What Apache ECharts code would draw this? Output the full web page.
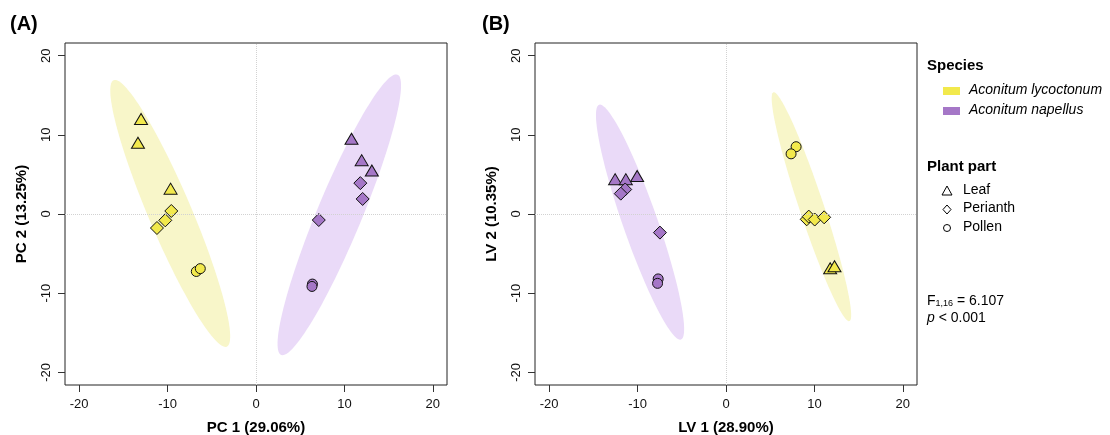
<!DOCTYPE html>
<html>
<head>
<meta charset="utf-8">
<script src="https://cdn.jsdelivr.net/npm/echarts@6/dist/echarts.min.js"></script>
<style>
  html, body { margin: 0; padding: 0; background: #fff; }
  #chart { width: 1110px; height: 435px; }
</style>
</head>
<body>
<div id="chart"></div>
<script>
// Axis ticks shared by both panels
const tickValues = [-20, -10, 0, 10, 20];

// Panel A: PCA scores
const pcaLycLeaf = [[-13.0, 12.0], [-13.35, 9.0], [-9.66, 3.2]];
const pcaLycPerianth = [[-9.58, 0.38], [-10.26, -0.8], [-11.2, -1.77]];
const pcaLycPollen = [[-6.75, -7.26], [-6.3, -6.9]];
const pcaNapLeaf = [[10.8, 9.5], [11.95, 6.8], [13.1, 5.5]];
const pcaNapPerianth = [[11.8, 3.9], [12.06, 1.9], [7.1, -0.76]];
const pcaNapPollen = [[6.38, -8.85], [6.33, -9.15]];

// Panel B: PLS-DA scores
const plsLycLeaf = [[11.78, -6.86], [12.27, -6.6]];
const plsLycPerianth = [[9.13, -0.67], [9.36, -0.33], [10.03, -0.7], [11.1, -0.42]];
const plsLycPollen = [[7.93, 8.5], [7.36, 7.6]];
const plsNapLeaf = [[-12.54, 4.4], [-11.33, 4.4], [-10.05, 4.8]];
const plsNapPerianth = [[-11.4, 3.1], [-11.9, 2.57], [-7.47, -2.35]];
const plsNapPollen = [[-7.67, -8.2], [-7.74, -8.76]];

// Ellipses (order: lycoctonum, napellus): centre, major and minor half-axes in data units
const pcaEllCenter = [[-9.7, 0.07], [9.42, -0.1]];
const pcaEllMajor = [[-6.4, 16.83], [6.58, 17.7]];
const pcaEllMinor = [[2.24, 1.07], [2.34, -1.09]];
const plsEllCenter = [[9.66, 0.92], [-9.72, -1.03]];
const plsEllMajor = [[-4.3, 14.45], [-4.63, 14.83]];
const plsEllMinor = [[1.31, 0.49], [1.85, 0.72]];

const speciesNames = ['Aconitum lycoctonum', 'Aconitum napellus'];
const partNames = ['Leaf', 'Perianth', 'Pollen'];
const axisNamesA = ['PC 1 (29.06%)', 'PC 2 (13.25%)'];
const axisNamesB = ['LV 1 (28.90%)', 'LV 2 (10.35%)'];

const YELLOW = '#f2e94c';
const PURPLE = '#a577c7';
const ELL_FILL = ['#f8f6c9', '#eadaf8'];
const FONT = 'Liberation Sans, Arial, sans-serif';

const chart = echarts.init(document.getElementById('chart'));

const makeX = (gridIndex, name) => ({
    gridIndex: gridIndex,
    type: 'value',
    min: -21.6,
    max: 21.6,
    name: name,
    nameLocation: 'middle',
    nameGap: 35,
    nameTextStyle: { fontFamily: FONT, fontSize: 15, fontWeight: 'bold', color: '#000' },
    axisLine: { show: false, onZero: false },
    axisTick: { show: true, inside: false, length: 7, customValues: tickValues, lineStyle: { color: '#333' } },
    axisLabel: { customValues: tickValues, margin: 13, fontFamily: FONT, fontSize: 13, color: '#111' },
    splitLine: { show: false }
});

const makeY = (gridIndex, name) => ({
    gridIndex: gridIndex,
    type: 'value',
    min: -21.6,
    max: 21.6,
    name: name,
    nameLocation: 'middle',
    nameGap: 36,
    nameTextStyle: { fontFamily: FONT, fontSize: 15, fontWeight: 'bold', color: '#000' },
    axisLine: { show: false, onZero: false },
    axisTick: { show: true, inside: false, length: 7, customValues: tickValues, lineStyle: { color: '#333' } },
    axisLabel: { customValues: tickValues, rotate: 90, margin: 12, fontFamily: FONT, fontSize: 13, color: '#111' },
    splitLine: { show: false }
});

const zeroLines = {
    silent: true,
    symbol: 'none',
    label: { show: false },
    lineStyle: { type: 'dotted', color: '#d2d2d2', width: 1 },
    data: [{ xAxis: 0 }, { yAxis: 0 }]
};

const ellipseSeries = (gridIndex, centers, majors, minors) => ({
    type: 'custom',
    xAxisIndex: gridIndex,
    yAxisIndex: gridIndex,
    z: 1,
    silent: true,
    data: centers,
    renderItem: (params, api) => {
        const c = centers[params.dataIndex];
        const a = majors[params.dataIndex];
        const b = minors[params.dataIndex];
        const points = [];
        for (let i = 0; i < 120; i++) {
            const t = i / 120 * Math.PI * 2;
            points.push(api.coord([
                c[0] + Math.cos(t) * a[0] + Math.sin(t) * b[0],
                c[1] + Math.cos(t) * a[1] + Math.sin(t) * b[1]
            ]));
        }
        return { type: 'polygon', shape: { points: points }, style: { fill: ELL_FILL[params.dataIndex] } };
    }
});

const SYMBOLS = {
    Leaf: { symbol: 'triangle', size: [13, 11] },
    Perianth: { symbol: 'diamond', size: [13, 13] },
    Pollen: { symbol: 'circle', size: 10 }
};

const scatter = (gridIndex, part, color, data, withLines) => {
    const s = {
        type: 'scatter',
        name: part,
        xAxisIndex: gridIndex,
        yAxisIndex: gridIndex,
        z: 3,
        symbol: SYMBOLS[part].symbol,
        symbolSize: SYMBOLS[part].size,
        itemStyle: { color: color, borderColor: '#111', borderWidth: 1, opacity: 1 },
        data: data
    };
    if (withLines) s.markLine = zeroLines;
    return s;
};

// legend helpers (drawn as graphics: two titled groups)
const legendText = (x, y, text, style) => ({
    type: 'text', left: x, top: y,
    style: Object.assign({ text: text, fontFamily: FONT, fontSize: 14, fill: '#000' }, style)
});

const graphics = [
    legendText(10, 14, '(A)', { fontSize: 20, fontWeight: 'bold' }),
    legendText(482, 14, '(B)', { fontSize: 20, fontWeight: 'bold' }),
    legendText(927, 58, 'Species', { fontSize: 15, fontWeight: 'bold' }),
    { type: 'rect', left: 943, top: 87, shape: { width: 17, height: 8 }, style: { fill: YELLOW } },
    { type: 'rect', left: 943, top: 107, shape: { width: 17, height: 8 }, style: { fill: PURPLE } },
    legendText(969, 83, speciesNames[0], { fontStyle: 'italic' }),
    legendText(969, 103, speciesNames[1], { fontStyle: 'italic' }),
    legendText(927, 159, 'Plant part', { fontSize: 15, fontWeight: 'bold' }),
    { type: 'polygon', shape: { points: [[947, 186], [952, 195], [942, 195]] }, style: { fill: 'none', stroke: '#000', lineWidth: 1 } },
    { type: 'polygon', shape: { points: [[947, 205], [951, 209.5], [947, 214], [943, 209.5]] }, style: { fill: 'none', stroke: '#000', lineWidth: 1 } },
    { type: 'circle', shape: { cx: 947, cy: 228, r: 3.5 }, style: { fill: 'none', stroke: '#000', lineWidth: 1 } },
    legendText(963, 183, partNames[0]),
    legendText(963, 201, partNames[1]),
    legendText(963, 220, partNames[2]),
    {
        type: 'text', left: 927, top: 294,
        style: {
            text: '{b|F}{s|1,16}{b| = 6.107}',
            rich: {
                b: { fontFamily: FONT, fontSize: 14, fill: '#000' },
                s: { fontFamily: FONT, fontSize: 9, fill: '#000', verticalAlign: 'bottom', padding: [4, 0, 0, 0] }
            }
        }
    },
    {
        type: 'text', left: 927, top: 311,
        style: {
            text: '{i|p}{b| < 0.001}',
            rich: {
                i: { fontFamily: FONT, fontSize: 14, fontStyle: 'italic', fill: '#000' },
                b: { fontFamily: FONT, fontSize: 14, fill: '#000' }
            }
        }
    }
];

chart.setOption({
    animation: false,
    backgroundColor: '#fff',
    grid: [
        { left: 65, top: 43, width: 382, height: 342, outerBoundsMode: 'none', containLabel: false, show: true, borderColor: '#222', borderWidth: 1, backgroundColor: 'transparent' },
        { left: 535, top: 43, width: 382, height: 342, outerBoundsMode: 'none', containLabel: false, show: true, borderColor: '#222', borderWidth: 1, backgroundColor: 'transparent' }
    ],
    xAxis: [makeX(0, axisNamesA[0]), makeX(1, axisNamesB[0])],
    yAxis: [makeY(0, axisNamesA[1]), makeY(1, axisNamesB[1])],
    graphic: graphics,
    series: [
        ellipseSeries(0, pcaEllCenter, pcaEllMajor, pcaEllMinor),
        ellipseSeries(1, plsEllCenter, plsEllMajor, plsEllMinor),
        scatter(0, 'Leaf', YELLOW, pcaLycLeaf, true),
        scatter(0, 'Perianth', YELLOW, pcaLycPerianth),
        scatter(0, 'Pollen', YELLOW, pcaLycPollen),
        scatter(0, 'Leaf', PURPLE, pcaNapLeaf),
        scatter(0, 'Perianth', PURPLE, pcaNapPerianth),
        scatter(0, 'Pollen', PURPLE, pcaNapPollen),
        scatter(1, 'Leaf', YELLOW, plsLycLeaf, true),
        scatter(1, 'Perianth', YELLOW, plsLycPerianth),
        scatter(1, 'Pollen', YELLOW, plsLycPollen),
        scatter(1, 'Leaf', PURPLE, plsNapLeaf),
        scatter(1, 'Perianth', PURPLE, plsNapPerianth),
        scatter(1, 'Pollen', PURPLE, plsNapPollen)
    ]
});

window.addEventListener('resize', () => chart.resize());
</script>
</body>
</html>
